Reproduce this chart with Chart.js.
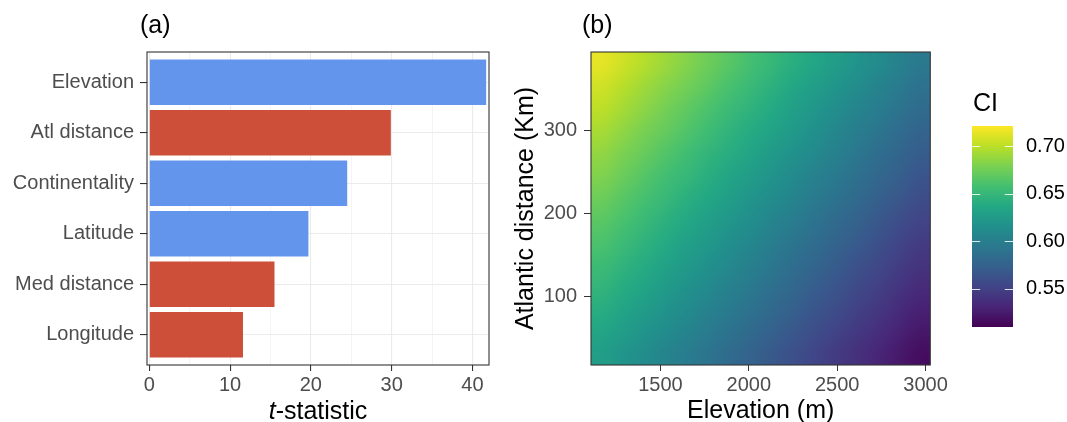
<!DOCTYPE html>
<html>
<head>
<meta charset="utf-8">
<script src="https://cdn.jsdelivr.net/npm/chart.js@4.4.1/dist/chart.umd.min.js"></script>
<style>
	html, body { margin: 0; padding: 0; background: #ffffff; }
	#wrap { position: relative; width: 1067px; height: 422px; overflow: hidden; }
	canvas { position: absolute; top: 0; }
	#barChart { left: 0; }
	#heatChart { left: 500px; }
	#ciBar { left: 950px; }
</style>
</head>
<body>
<div id="wrap">
	<canvas id="barChart" width="500" height="422"></canvas>
	<canvas id="heatChart" width="450" height="422"></canvas>
	<canvas id="ciBar" width="117" height="422"></canvas>
</div>
<script>
// (a) t-statistic per predictor
var predictors = ['Elevation', 'Atl distance', 'Continentality', 'Latitude', 'Med distance', 'Longitude'];
var tStats = [41.7, 29.9, 24.5, 19.7, 15.5, 11.6];
var effectSign = ['+', '-', '+', '+', '-', '-'];
var tRange = [-0.28, 42.05];
var tTicks = [0, 10, 20, 30, 40];
var tMinorTicks = [5, 15, 25, 35];

// (b) predicted CI over elevation (m) x Atlantic distance (km)
var elevationRange = [1107, 3027];
var elevationTicks = [1500, 2000, 2500, 3000];
var elevationBins = [1167, 1287, 1407, 1527, 1647, 1767, 1887, 2007, 2127, 2247, 2367, 2487, 2607, 2727, 2847, 2967];
var elevationStep = 120;
var distanceRange = [17, 395];
var distanceTicks = [100, 200, 300];
var distanceBins = [30.5, 57.5, 84.5, 111.5, 138.5, 165.5, 192.5, 219.5, 246.5, 273.5, 300.5, 327.5, 354.5, 381.5];
var distanceStep = 27;
// one row per distance bin (low to high), one value per elevation bin
var ciRows = [
	[0.628, 0.620, 0.613, 0.605, 0.598, 0.591, 0.583, 0.576, 0.568, 0.561, 0.554, 0.546, 0.539, 0.532, 0.524, 0.517],
	[0.634, 0.627, 0.619, 0.612, 0.605, 0.597, 0.590, 0.582, 0.575, 0.567, 0.560, 0.552, 0.545, 0.538, 0.530, 0.523],
	[0.641, 0.633, 0.626, 0.618, 0.611, 0.603, 0.596, 0.589, 0.581, 0.574, 0.566, 0.559, 0.551, 0.544, 0.536, 0.529],
	[0.648, 0.640, 0.633, 0.625, 0.617, 0.610, 0.602, 0.595, 0.587, 0.580, 0.572, 0.565, 0.557, 0.550, 0.542, 0.535],
	[0.654, 0.647, 0.639, 0.631, 0.624, 0.616, 0.609, 0.601, 0.594, 0.586, 0.579, 0.571, 0.563, 0.556, 0.548, 0.541],
	[0.661, 0.653, 0.646, 0.638, 0.630, 0.623, 0.615, 0.608, 0.600, 0.592, 0.585, 0.577, 0.570, 0.562, 0.554, 0.547],
	[0.667, 0.660, 0.652, 0.644, 0.637, 0.629, 0.622, 0.614, 0.606, 0.599, 0.591, 0.583, 0.576, 0.568, 0.560, 0.553],
	[0.674, 0.666, 0.659, 0.651, 0.643, 0.636, 0.628, 0.620, 0.613, 0.605, 0.597, 0.590, 0.582, 0.574, 0.567, 0.559],
	[0.681, 0.673, 0.665, 0.657, 0.650, 0.642, 0.634, 0.627, 0.619, 0.611, 0.603, 0.596, 0.588, 0.580, 0.573, 0.565],
	[0.687, 0.679, 0.672, 0.664, 0.656, 0.648, 0.641, 0.633, 0.625, 0.617, 0.610, 0.602, 0.594, 0.586, 0.579, 0.571],
	[0.694, 0.686, 0.678, 0.671, 0.663, 0.655, 0.647, 0.639, 0.632, 0.624, 0.616, 0.608, 0.600, 0.593, 0.585, 0.577],
	[0.701, 0.693, 0.685, 0.677, 0.669, 0.661, 0.653, 0.646, 0.638, 0.630, 0.622, 0.614, 0.606, 0.599, 0.591, 0.583],
	[0.707, 0.699, 0.691, 0.683, 0.676, 0.668, 0.660, 0.652, 0.644, 0.636, 0.628, 0.620, 0.613, 0.605, 0.597, 0.589],
	[0.714, 0.706, 0.698, 0.690, 0.682, 0.674, 0.666, 0.658, 0.650, 0.642, 0.635, 0.627, 0.619, 0.611, 0.603, 0.595]
];
var ciLimits = [0.510, 0.721];
var ciTicks = [0.55, 0.60, 0.65, 0.70];

var viridis = ['#440154', '#482576', '#414487', '#35608d', '#2a788e', '#21908c',
	'#22a884', '#43bf71', '#7ad151', '#bbdf27', '#fde725'];

var fontFamily = "'Liberation Sans', Arial, sans-serif";
Chart.defaults.font.family = fontFamily;

function hexToRgb(hex) {
	var n = parseInt(hex.slice(1), 16);
	return [(n >> 16) & 255, (n >> 8) & 255, n & 255];
}

function viridisRgb(v) {
	var t = (v - ciLimits[0]) / (ciLimits[1] - ciLimits[0]);
	t = Math.max(0, Math.min(1, t)) * (viridis.length - 1);
	var k = Math.min(Math.floor(t), viridis.length - 2);
	var f = t - k;
	var a = hexToRgb(viridis[k]);
	var b = hexToRgb(viridis[k + 1]);
	return [0, 1, 2].map(function(c) {
		return Math.round(a[c] + (b[c] - a[c]) * f);
	});
}

// dark frame round the panel, drawn over the marks like ggplot does
var panelBox = {
	id: 'panelBox',
	afterDatasetsDraw: function(chart) {
		var a = chart.chartArea;
		var ctx = chart.ctx;
		ctx.save();
		ctx.strokeStyle = '#333333';
		ctx.lineWidth = 1.1;
		ctx.strokeRect(a.left, a.top, a.right - a.left, a.bottom - a.top);
		ctx.restore();
	}
};

// free text: panel tags, mixed italic axis title, legend title
var panelText = {
	id: 'panelText',
	afterDraw: function(chart, args, opts) {
		var ctx = chart.ctx;
		(opts.items || []).forEach(function(item) {
			ctx.save();
			ctx.fillStyle = item.color || '#000000';
			ctx.textBaseline = 'alphabetic';
			ctx.textAlign = 'left';
			var fontFor = function(p) {
				return (p.italic ? 'italic ' : '') + item.size + 'px ' + fontFamily;
			};
			var x = item.x;
			if (item.center) {
				var total = 0;
				item.parts.forEach(function(p) {
					ctx.font = fontFor(p);
					total += ctx.measureText(p.text).width;
				});
				x -= total / 2;
			}
			item.parts.forEach(function(p) {
				ctx.font = fontFor(p);
				ctx.fillText(p.text, x, item.y);
				x += ctx.measureText(p.text).width;
			});
			ctx.restore();
		});
	}
};

// CI raster: one pixel per cell, stretched over the cell extents given by the scales
var heatCells = {
	id: 'heatCells',
	beforeDatasetsDraw: function(chart) {
		var ctx = chart.ctx;
		var a = chart.chartArea;
		var xs = chart.scales.x;
		var ys = chart.scales.y;
		var nx = elevationBins.length;
		var ny = distanceBins.length;
		var off = document.createElement('canvas');
		off.width = nx;
		off.height = ny;
		var octx = off.getContext('2d');
		var img = octx.createImageData(nx, ny);
		ciRows.forEach(function(row, j) {
			row.forEach(function(v, i) {
				var rgb = viridisRgb(v);
				var p = ((ny - 1 - j) * nx + i) * 4;
				img.data[p] = rgb[0];
				img.data[p + 1] = rgb[1];
				img.data[p + 2] = rgb[2];
				img.data[p + 3] = 255;
			});
		});
		octx.putImageData(img, 0, 0);

		var xL = xs.getPixelForValue(elevationBins[0] - elevationStep / 2);
		var xR = xs.getPixelForValue(elevationBins[nx - 1] + elevationStep / 2);
		var yT = ys.getPixelForValue(distanceBins[ny - 1] + distanceStep / 2);
		var yB = ys.getPixelForValue(distanceBins[0] - distanceStep / 2);
		ctx.save();
		ctx.beginPath();
		ctx.rect(a.left, a.top, a.right - a.left, a.bottom - a.top);
		ctx.clip();
		ctx.imageSmoothingEnabled = true;
		ctx.imageSmoothingQuality = 'high';
		ctx.drawImage(off, xL, yT, xR - xL, yB - yT);
		ctx.restore();
	}
};

// white ticks across the colour bar edges
var ciTickMarks = {
	id: 'ciTickMarks',
	afterDatasetsDraw: function(chart) {
		var ctx = chart.ctx;
		var a = chart.chartArea;
		var ys = chart.scales.y;
		var len = (a.right - a.left) / 5;
		ctx.save();
		ctx.strokeStyle = 'rgba(255,255,255,0.85)';
		ctx.lineWidth = 1;
		ciTicks.forEach(function(v) {
			var py = Math.round(ys.getPixelForValue(v)) + 0.5;
			ctx.beginPath();
			ctx.moveTo(a.left, py);
			ctx.lineTo(a.left + len, py);
			ctx.moveTo(a.right - len, py);
			ctx.lineTo(a.right, py);
			ctx.stroke();
		});
		ctx.restore();
	}
};

function isMajor(v) {
	return tTicks.indexOf(v) >= 0;
}

var tickFont = { size: 20 };
var tickGrey = '#4d4d4d';

// (a) bars
new Chart(document.getElementById('barChart'), {
	type: 'bar',
	data: {
		datasets: [{
			data: predictors.map(function(p, i) {
				return { x: tStats[i], y: predictors.length - i };
			}),
			backgroundColor: effectSign.map(function(s) {
				return s === '+' ? '#6495ed' : '#cd4f39';
			}),
			borderWidth: 0,
			barPercentage: 0.9,
			categoryPercentage: 1
		}]
	},
	options: {
		indexAxis: 'y',
		responsive: false,
		animation: false,
		layout: { padding: { top: 52, right: 11, bottom: 0, left: 0 } },
		plugins: {
			legend: { display: false },
			tooltip: { enabled: false },
			panelText: {
				items: [
					{ x: 140, y: 33, size: 25, parts: [{ text: '(a)' }] },
					{ x: 318, y: 419, size: 25, center: true, parts: [{ text: 't', italic: true }, { text: '-statistic' }] }
				]
			}
		},
		scales: {
			x: {
				type: 'linear',
				min: tRange[0],
				max: tRange[1],
				afterBuildTicks: function(s) {
					s.ticks = tTicks.concat(tMinorTicks).sort(function(a, b) { return a - b; })
						.map(function(v) { return { value: v }; });
				},
				afterFit: function(s) { s.height = 57; },
				border: { display: false },
				grid: {
					color: '#ebebeb',
					lineWidth: function(c) { return c.tick && isMajor(c.tick.value) ? 1.1 : 0.55; },
					tickColor: function(c) { return c.tick && isMajor(c.tick.value) ? '#333333' : 'rgba(0,0,0,0)'; },
					tickLength: 6
				},
				ticks: {
					autoSkip: false,
					maxRotation: 0,
					padding: 2,
					font: tickFont,
					color: tickGrey,
					callback: function(v) { return isMajor(v) ? String(v) : ''; }
				}
			},
			y: {
				type: 'linear',
				offset: false,
				min: 0.4,
				max: predictors.length + 0.6,
				afterBuildTicks: function(s) {
					s.ticks = predictors.map(function(p, i) { return { value: predictors.length - i }; });
				},
				afterFit: function(s) { s.width = 147; },
				border: { display: false },
				grid: { offset: false, color: '#ebebeb', lineWidth: 1.1, tickColor: '#333333', tickLength: 7 },
				ticks: {
					autoSkip: false,
					padding: 6,
					font: tickFont,
					color: tickGrey,
					callback: function(v) { return predictors[predictors.length - v]; }
				}
			}
		}
	},
	plugins: [panelBox, panelText]
});

// (b) heat map
var cellPoints = [];
ciRows.forEach(function(row, j) {
	row.forEach(function(v, i) {
		cellPoints.push({ x: elevationBins[i], y: distanceBins[j], ci: v });
	});
});

new Chart(document.getElementById('heatChart'), {
	type: 'scatter',
	data: { datasets: [{ label: 'CI', data: cellPoints, pointRadius: 0, pointHoverRadius: 0 }] },
	options: {
		responsive: false,
		animation: false,
		layout: { padding: { top: 52, right: 16, bottom: 0, left: 0 } },
		plugins: {
			legend: { display: false },
			tooltip: { enabled: false },
			panelText: { items: [{ x: 82, y: 33, size: 25, parts: [{ text: '(b)' }] }] }
		},
		scales: {
			x: {
				type: 'linear',
				min: elevationRange[0],
				max: elevationRange[1],
				afterBuildTicks: function(s) {
					s.ticks = elevationTicks.map(function(v) { return { value: v }; });
				},
				afterFit: function(s) { s.height = 57; },
				border: { display: false },
				grid: { drawOnChartArea: false, tickColor: '#333333', tickLength: 6 },
				ticks: { maxRotation: 0, padding: 2, font: tickFont, color: tickGrey, callback: function(v) { return String(v); } },
				title: { display: true, text: 'Elevation (m)', color: '#000000', font: { size: 25 }, padding: { top: 0, bottom: -4 } }
			},
			y: {
				type: 'linear',
				min: distanceRange[0],
				max: distanceRange[1],
				afterBuildTicks: function(s) {
					s.ticks = distanceTicks.map(function(v) { return { value: v }; });
				},
				afterFit: function(s) { s.width = 91; },
				border: { display: false },
				grid: { drawOnChartArea: false, tickColor: '#333333', tickLength: 7 },
				ticks: { padding: 7, font: tickFont, color: tickGrey, callback: function(v) { return String(v); } },
				title: { display: true, text: 'Atlantic distance (Km)', color: '#000000', font: { size: 25 }, padding: { top: 11, bottom: 0 } }
			}
		}
	},
	plugins: [heatCells, panelBox, panelText]
});

// colour bar legend
new Chart(document.getElementById('ciBar'), {
	type: 'bar',
	data: {
		labels: ['CI'],
		datasets: [{
			data: [ciLimits.slice()],
			backgroundColor: function(c) {
				var chart = c.chart;
				if (!chart.chartArea) {
					return viridis[5];
				}
				var ys = chart.scales.y;
				var g = chart.ctx.createLinearGradient(0, ys.getPixelForValue(ciLimits[0]), 0, ys.getPixelForValue(ciLimits[1]));
				viridis.forEach(function(col, k) {
					g.addColorStop(k / (viridis.length - 1), col);
				});
				return g;
			},
			borderWidth: 0,
			borderSkipped: false,
			barPercentage: 1,
			categoryPercentage: 1
		}]
	},
	options: {
		responsive: false,
		animation: false,
		layout: { padding: { top: 126, right: 0, bottom: 95, left: 22 } },
		plugins: {
			legend: { display: false },
			tooltip: { enabled: false },
			panelText: { items: [{ x: 23, y: 111, size: 25, parts: [{ text: 'CI' }] }] }
		},
		scales: {
			x: { display: false },
			y: {
				position: 'right',
				min: ciLimits[0],
				max: ciLimits[1],
				afterBuildTicks: function(s) {
					s.ticks = ciTicks.map(function(v) { return { value: v }; });
				},
				afterFit: function(s) { s.width = 54; },
				border: { display: false },
				grid: { display: false, drawTicks: false },
				ticks: { padding: 13, font: tickFont, color: '#000000', callback: function(v) { return v.toFixed(2); } }
			}
		}
	},
	plugins: [ciTickMarks, panelText]
});
</script>
</body>
</html>
